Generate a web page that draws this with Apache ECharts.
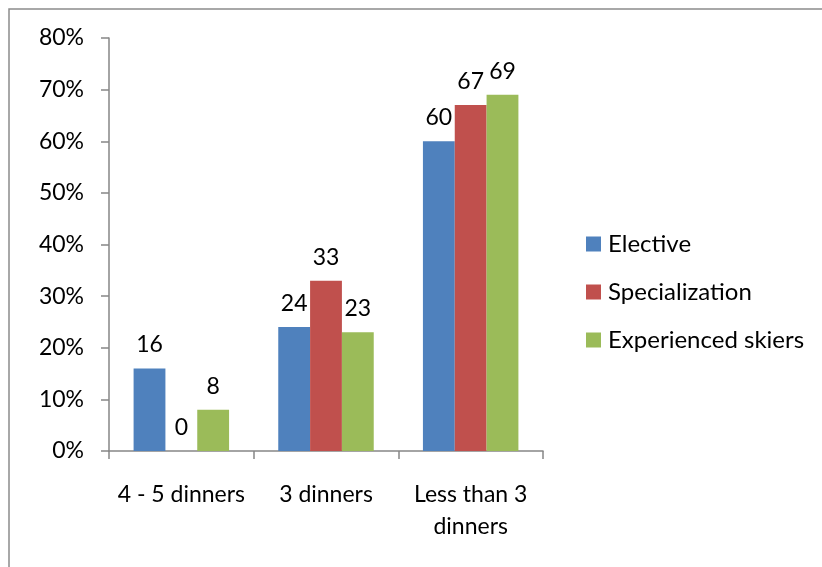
<!DOCTYPE html>
<html>
<head>
<meta charset="utf-8">
<script src="https://cdn.jsdelivr.net/npm/echarts@6/dist/echarts.min.js"></script>
<style>
  html, body { margin: 0; padding: 0; background: #fff; }
  #chart { width: 822px; height: 567px; }
</style>
</head>
<body>
<div id="chart"></div>
<script>
// Dinner frequency by group, in percent
const categories = ['4 - 5 dinners', '3 dinners', 'Less than 3\ndinners'];
const elective = [16, 24, 60];
const specialization = [0, 33, 67];
const experiencedSkiers = [8, 23, 69];
const seriesNames = ['Elective', 'Specialization', 'Experienced skiers'];
const yTicks = [0, 10, 20, 30, 40, 50, 60, 70, 80];

const colors = ['#4F81BD', '#C0504D', '#9BBB59'];
const FONT = 'Lato, "Open Sans", sans-serif';
const FS = 23;
const axisGray = '#868686';

const chart = echarts.init(document.getElementById('chart'));

function barSeries(name, data, color) {
  return {
    name: name,
    type: 'bar',
    data: data,
    barGap: '0%',
    barCategoryGap: '34%',
    itemStyle: { color: color },
    label: {
      show: true,
      position: 'top',
      distance: 12,
      color: '#000',
      fontFamily: FONT,
      fontSize: FS
    }
  };
}

chart.setOption({
  animation: false,
  color: colors,
  graphic: [{
    type: 'rect',
    shape: { x: 9, y: 9, width: 900, height: 700 },
    style: { fill: 'none', stroke: '#8c8c8c', lineWidth: 1.5 },
    silent: true
  }],
  grid: { left: 109, right: 279, top: 38, bottom: 116, containLabel: false },
  legend: {
    orient: 'vertical',
    left: 586,
    top: 232,
    padding: 0,
    itemWidth: 15,
    itemHeight: 15,
    itemGap: 24,
    icon: 'rect',
    data: seriesNames,
    textStyle: { fontFamily: FONT, fontSize: 24, lineHeight: 20, color: '#000', padding: [0, 0, 0, 2] }
  },
  xAxis: {
    type: 'category',
    data: categories,
    axisLine: { lineStyle: { color: axisGray, width: 1.5 } },
    axisTick: { show: true, length: 8, alignWithLabel: false, lineStyle: { color: axisGray, width: 1.5 } },
    axisLabel: {
      interval: 0,
      margin: 28,
      color: '#000',
      fontFamily: FONT,
      fontSize: FS,
      lineHeight: 32,
      align: 'center'
    }
  },
  yAxis: {
    type: 'value',
    min: yTicks[0],
    max: yTicks[yTicks.length - 1],
    interval: 10,
    splitLine: { show: false },
    axisLine: { show: true, lineStyle: { color: axisGray, width: 1.5 } },
    axisTick: { show: true, length: 8, inside: false, lineStyle: { color: axisGray, width: 1.5 } },
    axisLabel: {
      margin: 25,
      color: '#000',
      fontFamily: FONT,
      fontSize: FS,
      formatter: v => v + '%'
    }
  },
  series: [
    barSeries(seriesNames[0], elective, colors[0]),
    barSeries(seriesNames[1], specialization, colors[1]),
    barSeries(seriesNames[2], experiencedSkiers, colors[2])
  ]
});
</script>
</body>
</html>
